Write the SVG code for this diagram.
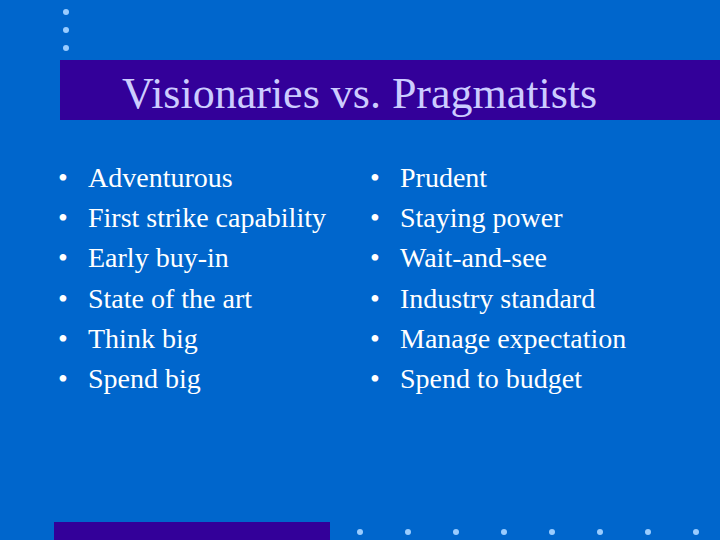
<svg xmlns="http://www.w3.org/2000/svg" width="720" height="540" viewBox="0 0 720 540">
<style>
.d{fill:#99ccff}
.t{font-family:"Liberation Serif",serif;font-size:28px;fill:#ffffff}
</style>
<rect width="720" height="540" fill="#0066cc"/>
<g id="deco">
<circle class="d" cx="66" cy="12" r="3"/><circle class="d" cx="66" cy="30" r="3"/><circle class="d" cx="66" cy="48" r="3"/>
<rect x="60" y="60" width="660" height="60" fill="#330099"/>
<rect x="54" y="522" width="276" height="18" fill="#330099"/>
<circle class="d" cx="360" cy="532" r="3"/><circle class="d" cx="408" cy="532" r="3"/><circle class="d" cx="456" cy="532" r="3"/><circle class="d" cx="504" cy="532" r="3"/><circle class="d" cx="552" cy="532" r="3"/><circle class="d" cx="600" cy="532" r="3"/><circle class="d" cx="648" cy="532" r="3"/><circle class="d" cx="696" cy="532" r="3"/>
</g>
<g id="title"><text x="122" y="108" font-family="Liberation Serif,serif" font-size="44" fill="#ccccff">Visionaries vs. Pragmatists</text></g>
<g id="left">
<text class="t" x="58" y="187">•</text><text class="t" x="88" y="187">Adventurous</text>
<text class="t" x="58" y="227">•</text><text class="t" x="88" y="227">First strike capability</text>
<text class="t" x="58" y="267">•</text><text class="t" x="88" y="267">Early buy-in</text>
<text class="t" x="58" y="308">•</text><text class="t" x="88" y="308">State of the art</text>
<text class="t" x="58" y="348">•</text><text class="t" x="88" y="348">Think big</text>
<text class="t" x="58" y="388">•</text><text class="t" x="88" y="388">Spend big</text>
</g>
<g id="right">
<text class="t" x="370" y="187">•</text><text class="t" x="400" y="187">Prudent</text>
<text class="t" x="370" y="227">•</text><text class="t" x="400" y="227">Staying power</text>
<text class="t" x="370" y="267">•</text><text class="t" x="400" y="267">Wait-and-see</text>
<text class="t" x="370" y="308">•</text><text class="t" x="400" y="308">Industry standard</text>
<text class="t" x="370" y="348">•</text><text class="t" x="400" y="348">Manage expectation</text>
<text class="t" x="370" y="388">•</text><text class="t" x="400" y="388">Spend to budget</text>
</g>
</svg>
